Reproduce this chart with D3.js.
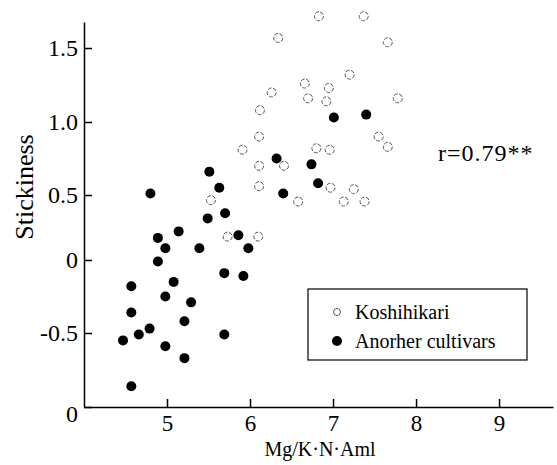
<!doctype html>
<html>
<head>
<meta charset="utf-8">
<script src="https://cdnjs.cloudflare.com/ajax/libs/d3/7.8.5/d3.min.js"></script>
<style>
  body { margin: 0; background: #fff; }
  .axis path, .axis line { stroke: #000; stroke-width: 1.5; }
</style>
</head>
<body>
<svg width="557" height="465"></svg>
<script>
// Koshihikari (open circles)
var koshiX = [6.34, 6.83, 7.37, 7.66, 6.26, 7.20, 6.66, 6.95, 6.70, 6.92, 7.78, 6.12, 6.11, 5.91, 6.80,
              6.96, 7.55, 7.66, 6.11, 6.41, 6.11, 6.97, 7.25, 6.58, 7.13, 7.38, 5.53, 5.73, 6.10];
var koshiY = [1.57, 1.72, 1.72, 1.54, 1.20, 1.32, 1.26, 1.23, 1.16, 1.14, 1.16, 1.08, 0.90, 0.81, 0.82,
              0.81, 0.90, 0.83, 0.70, 0.70, 0.56, 0.55, 0.54, 0.45, 0.45, 0.45, 0.46, 0.18, 0.18];
// other cultivars (filled)
var otherX = [6.32, 7.01, 7.40, 6.74, 6.82, 6.40, 4.80, 5.51, 5.63, 5.70, 5.49, 5.14, 4.89, 5.86, 4.98,
              5.39, 5.98, 4.89, 4.57, 5.69, 5.92, 5.08, 4.98, 5.29, 4.57, 5.21, 4.79, 4.66, 5.69, 4.47,
              4.98, 5.21, 4.57];
var otherY = [0.75, 1.03, 1.05, 0.71, 0.58, 0.51, 0.51, 0.66, 0.55, 0.36, 0.32, 0.22, 0.17, 0.19, 0.09,
              0.09, 0.09, -0.01, -0.18, -0.09, -0.11, -0.15, -0.25, -0.29, -0.36, -0.42, -0.47, -0.51, -0.51, -0.55,
              -0.59, -0.67, -0.86];

var xTicks = [5, 6, 7, 8, 9];
var yTicks = [-1, -0.5, 0, 0.5, 1, 1.5];
var yTickLabels = ["0", "-0.5", "0", "0.5", "1.0", "1.5"];
var legendNames = ["Koshihikari", "Anorher cultivars"];
var rText = "r=0.79**";

var serif = "'Liberation Serif', 'Times New Roman', 'DejaVu Serif', serif";
var svg = d3.select("svg");

var x = d3.scaleLinear().domain([4.0, 9.65]).range([84, 553]);
// tick spacing in the original figure is uneven, follow it
var y = d3.scaleLinear()
    .domain([-1, -0.5, 0, 0.5, 1, 1.5, 1.68])
    .range([407, 333, 260, 195, 122, 48, 22]);

var gx = svg.append("g")
    .attr("class", "axis")
    .attr("transform", "translate(0,407)")
    .call(d3.axisBottom(x).tickValues(xTicks).tickSize(-8).tickSizeOuter(0).tickPadding(8)
        .tickFormat(d3.format("d")));

var gy = svg.append("g")
    .attr("class", "axis")
    .attr("transform", "translate(84,0)")
    .call(d3.axisLeft(y).tickValues(yTicks).tickSize(-8).tickSizeOuter(0).tickPadding(6)
        .tickFormat(function(d, i) { return yTickLabels[i]; }));

gx.attr("font-family", serif).attr("font-size", 23);
gy.attr("font-family", serif).attr("font-size", 24);
gy.selectAll("text").filter(function(d) { return d === -1; }).attr("dy", "0.6em");

// points
svg.append("g").selectAll("circle")
    .data(koshiX)
    .enter()
    .append("circle")
    .attr("cx", function(d) { return x(d); })
    .attr("cy", function(d, i) { return y(koshiY[i]); })
    .attr("r", 4.5)
    .style("fill", "#fff")
    .style("stroke", "#555")
    .style("stroke-width", 1)
    .style("stroke-dasharray", "4,1.5");

svg.append("g").selectAll("circle")
    .data(otherX)
    .enter()
    .append("circle")
    .attr("cx", function(d) { return x(d); })
    .attr("cy", function(d, i) { return y(otherY[i]); })
    .attr("r", 5)
    .style("fill", "#000");

// axis titles
svg.append("text")
    .attr("transform", "translate(33,187) rotate(-90)")
    .attr("text-anchor", "middle")
    .style("font-family", serif)
    .style("font-size", "26px")
    .text("Stickiness");

svg.append("text")
    .attr("x", 320)
    .attr("y", 456)
    .attr("text-anchor", "middle")
    .style("font-family", serif)
    .style("font-size", "20px")
    .text("Mg/K\u00b7N\u00b7Aml");

svg.append("text")
    .attr("x", 438)
    .attr("y", 161)
    .style("font-family", serif)
    .style("font-size", "24px")
    .style("letter-spacing", "1px")
    .text(rText);

// legend
var lg = svg.append("g");
lg.append("rect")
    .attr("x", 308).attr("y", 289)
    .attr("width", 219).attr("height", 71)
    .style("fill", "none").style("stroke", "#000").style("stroke-width", 1.2);
lg.append("circle").attr("cx", 337).attr("cy", 312).attr("r", 3.5)
    .style("fill", "#fff").style("stroke", "#555").style("stroke-width", 1);
lg.append("circle").attr("cx", 337).attr("cy", 341).attr("r", 5).style("fill", "#000");
lg.selectAll("text.lab")
    .data(legendNames)
    .enter()
    .append("text")
    .attr("class", "lab")
    .attr("x", 355)
    .attr("y", function(d, i) { return 319 + i * 29; })
    .style("font-family", serif)
    .style("font-size", "20px")
    .text(function(d) { return d; });
</script>
</body>
</html>
